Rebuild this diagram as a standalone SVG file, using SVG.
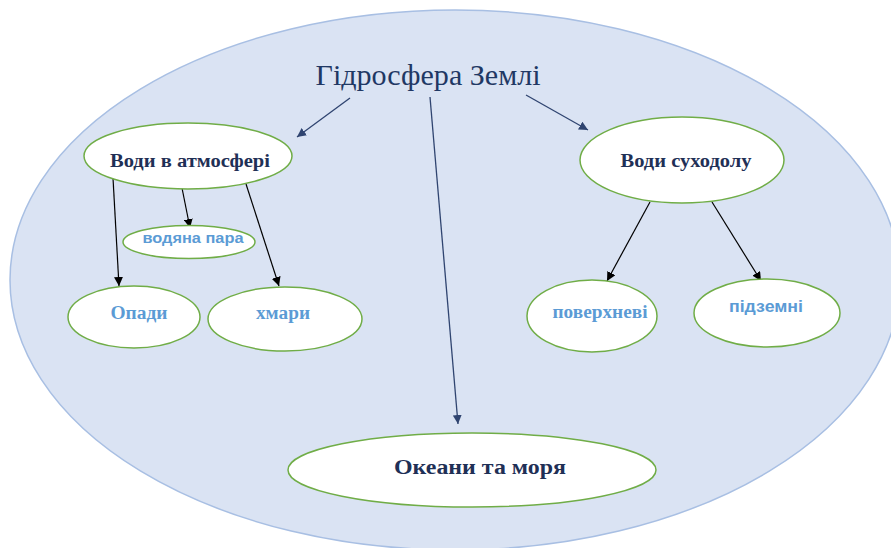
<svg xmlns="http://www.w3.org/2000/svg" width="891" height="548" viewBox="0 0 891 548">
<style>
.node{fill:#ffffff;stroke:#70ad47;stroke-width:1.5}
.dark{font-family:'Liberation Serif','Times New Roman',serif;font-weight:bold;fill:#1f3056;text-anchor:middle}
.blue{font-family:'Liberation Serif','Times New Roman',serif;font-weight:bold;fill:#5b9bd5;text-anchor:middle}
.blues{font-family:'Liberation Sans',Arial,sans-serif;font-weight:bold;fill:#5b9bd5;text-anchor:middle}
.ttl{font-family:'Liberation Serif','Times New Roman',serif;fill:#1f3864;text-anchor:middle}
.nav{stroke:#2f4470;stroke-width:1.3;fill:none}
.blk{stroke:#000000;stroke-width:1.2;fill:none}
</style>
<defs>
<marker id="an" viewBox="0 0 10 10" refX="10" refY="5" markerWidth="9" markerHeight="9" markerUnits="userSpaceOnUse" orient="auto"><path d="M0,0 L10,5 L0,10 z" fill="#2f4470"/></marker>
<marker id="ab" viewBox="0 0 10 10" refX="10" refY="5" markerWidth="9" markerHeight="9" markerUnits="userSpaceOnUse" orient="auto"><path d="M0,0 L10,5 L0,10 z" fill="#000000"/></marker>
</defs>
<rect width="891" height="548" fill="#ffffff"/>
<g id="background">
<ellipse cx="455" cy="280" rx="445" ry="270" fill="#dae3f3" stroke="#a8bfe3" stroke-width="1.5"/>
</g>
<g id="title">
<text class="ttl" x="428" y="85" font-size="30" textLength="225" lengthAdjust="spacingAndGlyphs">Гідросфера Землі</text>
</g>
<g id="connectors">
<line class="nav" x1="350" y1="98" x2="297" y2="137" marker-end="url(#an)"/>
<line class="nav" x1="430" y1="97" x2="458" y2="424" marker-end="url(#an)"/>
<line class="nav" x1="526" y1="95" x2="588" y2="130" marker-end="url(#an)"/>
<line class="blk" x1="113" y1="178" x2="119" y2="286" marker-end="url(#ab)"/>
<line class="blk" x1="182" y1="188" x2="190" y2="228" marker-end="url(#ab)"/>
<line class="blk" x1="246" y1="184" x2="279" y2="286" marker-end="url(#ab)"/>
<line class="blk" x1="650" y1="202" x2="607" y2="281" marker-end="url(#ab)"/>
<line class="blk" x1="712" y1="202" x2="761" y2="281" marker-end="url(#ab)"/>
</g>
<g id="n-atm">
<ellipse class="node" cx="188" cy="156" rx="104" ry="33"/>
<text class="dark" x="190" y="167" font-size="18" textLength="160" lengthAdjust="spacingAndGlyphs">Води в атмосфері</text>
</g>
<g id="n-vapor">
<ellipse class="node" cx="189" cy="242" rx="66" ry="16.5"/>
<text class="blues" x="193" y="243" font-size="14" textLength="101" lengthAdjust="spacingAndGlyphs">водяна пара</text>
</g>
<g id="n-opady">
<ellipse class="node" cx="134" cy="317" rx="66" ry="31"/>
<text class="blue" x="139" y="319" font-size="18" textLength="57" lengthAdjust="spacingAndGlyphs">Опади</text>
</g>
<g id="n-khmary">
<ellipse class="node" cx="285" cy="319" rx="77" ry="32"/>
<text class="blue" x="283" y="319" font-size="18" textLength="54" lengthAdjust="spacingAndGlyphs">хмари</text>
</g>
<g id="n-land">
<ellipse class="node" cx="682" cy="160" rx="102" ry="43"/>
<text class="dark" x="686" y="167" font-size="18" textLength="131" lengthAdjust="spacingAndGlyphs">Води суходолу</text>
</g>
<g id="n-surface">
<ellipse class="node" cx="592" cy="316" rx="65" ry="36"/>
<text class="blue" x="600" y="318" font-size="18" textLength="95" lengthAdjust="spacingAndGlyphs">поверхневі</text>
</g>
<g id="n-under">
<ellipse class="node" cx="767" cy="313" rx="73" ry="34"/>
<text class="blues" x="766" y="312" font-size="16" textLength="74" lengthAdjust="spacingAndGlyphs">підземні</text>
</g>
<g id="n-ocean">
<ellipse class="node" cx="472" cy="470" rx="184" ry="37"/>
<text class="dark" x="480" y="474" font-size="20" textLength="172" lengthAdjust="spacingAndGlyphs">Океани та моря</text>
</g>
</svg>
